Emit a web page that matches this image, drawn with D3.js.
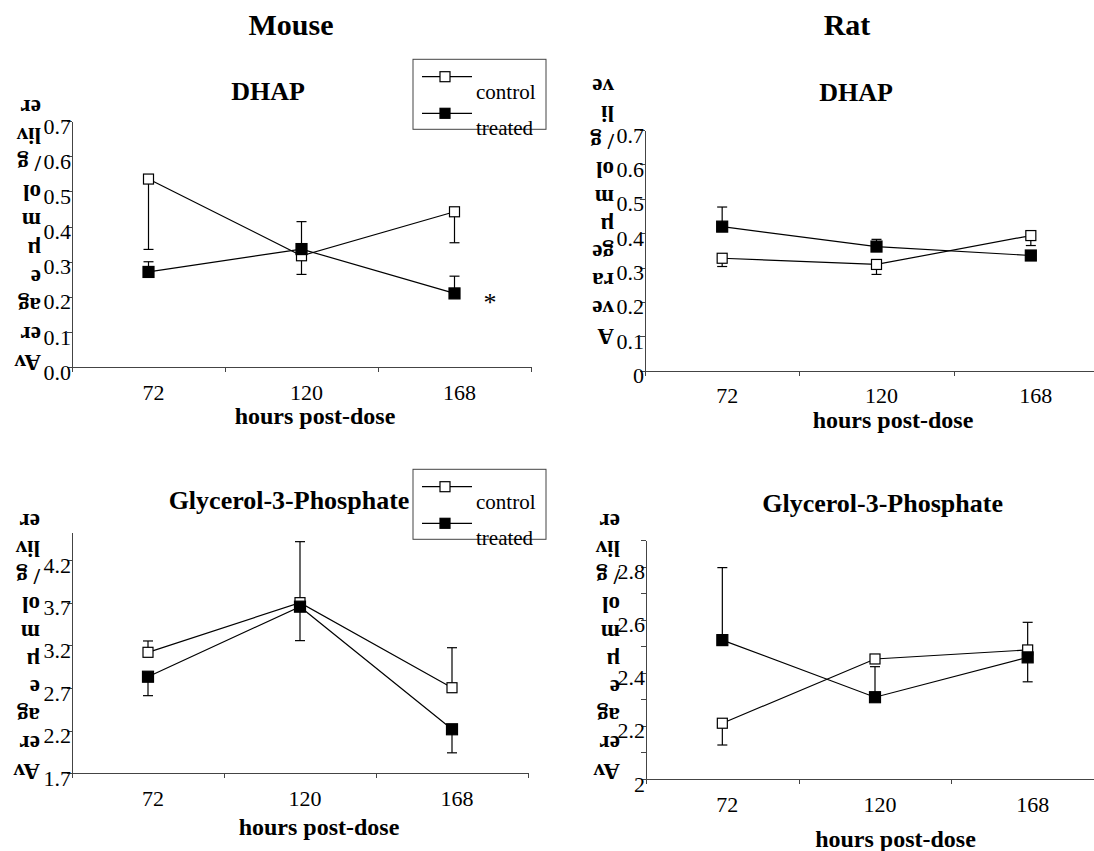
<!DOCTYPE html>
<html>
<head>
<meta charset="utf-8">
<script src="https://cdn.jsdelivr.net/npm/d3@7"></script>
<style>
  body { margin:0; background:#fff; }
  svg text { font-family:"Liberation Serif","Times New Roman",Times,serif !important; fill:#000; }
  .axis path, .axis line { stroke:#444; shape-rendering:crispEdges; }
</style>
</head>
<body>
<svg id="chart" width="1094" height="851"></svg>
<script>
// data
const hours=["72","120","168"]
const seriesNames=["control","treated"]

const mouseDhapControl=[0.535, 0.317, 0.442]
const mouseDhapControlErr=[0.335, 0.264, 0.354] // end of error bar
const mouseDhapTreated=[0.271, 0.336, 0.210]
const mouseDhapTreatedErr=[0.300, 0.414, 0.259]

const ratDhapControl=[0.327, 0.309, 0.393]
const ratDhapControlErr=[0.303, 0.280, 0.364]
const ratDhapTreated=[0.419, 0.361, 0.335]
const ratDhapTreatedErr=[0.476, 0.382, 0.340]

const mouseG3pControl=[3.118, 3.700, 2.703]
const mouseG3pControlErr=[3.251, 4.415, 3.172]
const mouseG3pTreated=[2.832, 3.653, 2.216]
const mouseG3pTreatedErr=[2.610, 3.255, 1.940]

const ratG3pControl=[2.210, 2.452, 2.486]
const ratG3pControlErr=[2.128, 2.452, 2.590]
const ratG3pTreated=[2.523, 2.308, 2.458]
const ratG3pTreatedErr=[2.796, 2.423, 2.366]

const dhapTicks=[0,0.1,0.2,0.3,0.4,0.5,0.6,0.7]
const mouseG3pTicks=[1.7,2.2,2.7,3.2,3.7,4.2]
const ratG3pTicks=[2,2.2,2.4,2.6,2.8]
const ratG3pMinor=[2.1,2.3,2.5,2.7,2.9]

const yLabelMouse=["Av","er","ag","e","µ","m","ol","/ g","liv","er"] // bottom to top, drawn upside down
const yLabelRat=["A","ve","ra","ge","µ","m","ol","/ g","li","ve"]

const speciesTitles=["Mouse","Rat"]
const xTitle="hours post-dose"

const svg=d3.select("#chart")

// species headers
svg.selectAll("text.species").data(speciesTitles).enter().append("text")
  .attr("class","species")
  .attr("x",(d,i)=>[291,847][i]).attr("y",35)
  .attr("text-anchor","middle").attr("font-weight","bold").attr("font-size",30)
  .text(d=>d)

const panels=[
  {title:"DHAP", tx:268, ty:100, x0:72, x1:531, yb:367.3, yt:121, dom:[0,0.7],
   ticks:dhapTicks, fmt:d3.format(".1f"), minor:[],
   c:mouseDhapControl, ce:mouseDhapControlErr, t:mouseDhapTreated, te:mouseDhapTreatedErr,
   lab:yLabelMouse, lx:41, lyb:363.3, lyt:107.7, xtx:315, xty:424, legend:[413,59.3], star:true},
  {title:"DHAP", tx:856, ty:100.7, x0:645, x1:1108, yb:370.7, yt:130, dom:[0,0.7],
   ticks:dhapTicks, fmt:d=>d===0?"0":d3.format(".1f")(d), minor:[],
   c:ratDhapControl, ce:ratDhapControlErr, t:ratDhapTreated, te:ratDhapTreatedErr,
   lab:yLabelRat, lx:614, lyb:336.7, lyt:86.7, xtx:893, xty:428},
  {title:"Glycerol-3-Phosphate", tx:289, ty:509.3, x0:72, x1:528, yb:773.3, yt:532.7, dom:[1.7,4.52],
   ticks:mouseG3pTicks, fmt:d3.format(".1f"), minor:[],
   c:mouseG3pControl, ce:mouseG3pControlErr, t:mouseG3pTreated, te:mouseG3pTreatedErr,
   lab:yLabelMouse, lx:40, lyb:771.7, lyt:521.7, xtx:319, xty:835, legend:[413,469.3]},
  {title:"Glycerol-3-Phosphate", tx:882.6, ty:511.7, x0:646, x1:1104, yb:779, yt:540, dom:[2,2.9],
   ticks:ratG3pTicks, fmt:d=>d===2?"2":d3.format(".1f")(d), minor:ratG3pMinor,
   c:ratG3pControl, ce:ratG3pControlErr, t:ratG3pTreated, te:ratG3pTreatedErr,
   lab:yLabelMouse, lx:620, lyb:771.7, lyt:521.7, xtx:895.5, xty:846.7}
]

function drawPanel(p){
  const g=svg.append("g")
  const x=d3.scaleBand().domain(hours).range([p.x0,p.x1])
  const xb=d3.scaleLinear().domain([0,hours.length]).range([p.x0,p.x1])
  const y=d3.scaleLinear().domain(p.dom).range([p.yb,p.yt])

  g.append("text").attr("x",p.tx).attr("y",p.ty).attr("text-anchor","middle")
    .attr("font-weight","bold").attr("font-size",26).text(p.title)

  // y axis
  const ya=g.append("g").attr("class","axis").attr("transform",`translate(${p.x0},0)`)
    .call(d3.axisLeft(y).tickValues(p.ticks).tickFormat(p.fmt).tickSize(5).tickSizeOuter(0).tickPadding(-4))
  ya.selectAll("text").attr("font-size",22).attr("y",5)
  if (p.minor.length) {
    g.append("g").attr("class","axis").attr("transform",`translate(${p.x0},0)`)
      .call(d3.axisLeft(y).tickValues(p.minor).tickFormat("").tickSize(5).tickSizeOuter(0))
      .select(".domain").remove()
  }
  // x axis: boundary ticks + centred labels
  g.append("g").attr("class","axis").attr("transform",`translate(0,${p.yb})`)
    .call(d3.axisBottom(xb).tickValues(d3.range(hours.length+1)).tickFormat("").tickSize(5).tickSizeOuter(0))
  const xa=g.append("g").attr("transform",`translate(0,${p.yb})`)
    .call(d3.axisBottom(x).tickSize(0).tickPadding(17))
  xa.select(".domain").remove()
  xa.selectAll("text").attr("font-size",22).attr("dx",5)

  g.append("text").attr("x",p.xtx).attr("y",p.xty).attr("text-anchor","middle")
    .attr("font-weight","bold").attr("font-size",24).text(xTitle)

  // stacked upside-down y label
  const n=p.lab.length
  g.selectAll("text.ylab").data(p.lab).enter().append("text")
    .attr("class","ylab")
    .attr("transform",(d,i)=>`translate(${p.lx},${p.lyb+(p.lyt-p.lyb)*i/(n-1)}) rotate(180)`)
    .attr("dy","0.35em").attr("font-weight","bold").attr("font-size",23)
    .text(d=>d)

  const cx=d=>x(d)+x.bandwidth()/2
  const series=[
    {vals:p.c, err:p.ce, fill:"#fff", size:10},
    {vals:p.t, err:p.te, fill:"#000", size:11}
  ]
  const line=d3.line().x((d,i)=>cx(hours[i])).y(d=>y(d))
  series.forEach(s=>{
    g.append("path").datum(s.vals).attr("d",line).attr("fill","none").attr("stroke","#000").attr("stroke-width",1.2)
  })
  series.forEach(s=>{
    const eb=g.append("g")
    eb.selectAll("line.v").data(s.vals).enter().append("line")
      .attr("x1",(d,i)=>cx(hours[i])).attr("x2",(d,i)=>cx(hours[i]))
      .attr("y1",d=>y(d)).attr("y2",(d,i)=>y(s.err[i])).attr("stroke","#000").attr("stroke-width",1.2)
    eb.selectAll("line.c").data(s.err).enter().append("line")
      .attr("x1",(d,i)=>cx(hours[i])-5).attr("x2",(d,i)=>cx(hours[i])+5)
      .attr("y1",d=>y(d)).attr("y2",d=>y(d)).attr("stroke","#000").attr("stroke-width",1.2)
  })
  series.forEach(s=>{
    g.selectAll(null).data(s.vals).enter().append("rect")
      .attr("x",(d,i)=>cx(hours[i])-s.size/2).attr("y",d=>y(d)-s.size/2)
      .attr("width",s.size).attr("height",s.size)
      .attr("fill",s.fill).attr("stroke","#000").attr("stroke-width",1.2)
  })

  if (p.star) {
    g.append("text").attr("x",490).attr("y",y(p.t[2])+18).attr("text-anchor","middle")
      .attr("font-size",26).text("*")
  }

  if (p.legend) {
    const [lx,ly]=p.legend
    const lg=g.append("g")
    lg.append("rect").attr("x",lx).attr("y",ly).attr("width",133).attr("height",70)
      .attr("fill","#fff").attr("stroke","#444")
    const fills=["#fff","#000"]
    seriesNames.forEach((nm,i)=>{
      const sy=ly+17.4+i*36.6
      lg.append("line").attr("x1",lx+9).attr("x2",lx+59).attr("y1",sy).attr("y2",sy).attr("stroke","#000").attr("stroke-width",1.2)
      lg.append("rect").attr("x",lx+32-5).attr("y",sy-5).attr("width",10).attr("height",10)
        .attr("fill",fills[i]).attr("stroke","#000").attr("stroke-width",1.2)
      lg.append("text").attr("x",lx+63).attr("y",ly+40+i*36).attr("font-size",21).text(nm)
    })
  }
}
panels.forEach(drawPanel)
</script>
</body>
</html>
